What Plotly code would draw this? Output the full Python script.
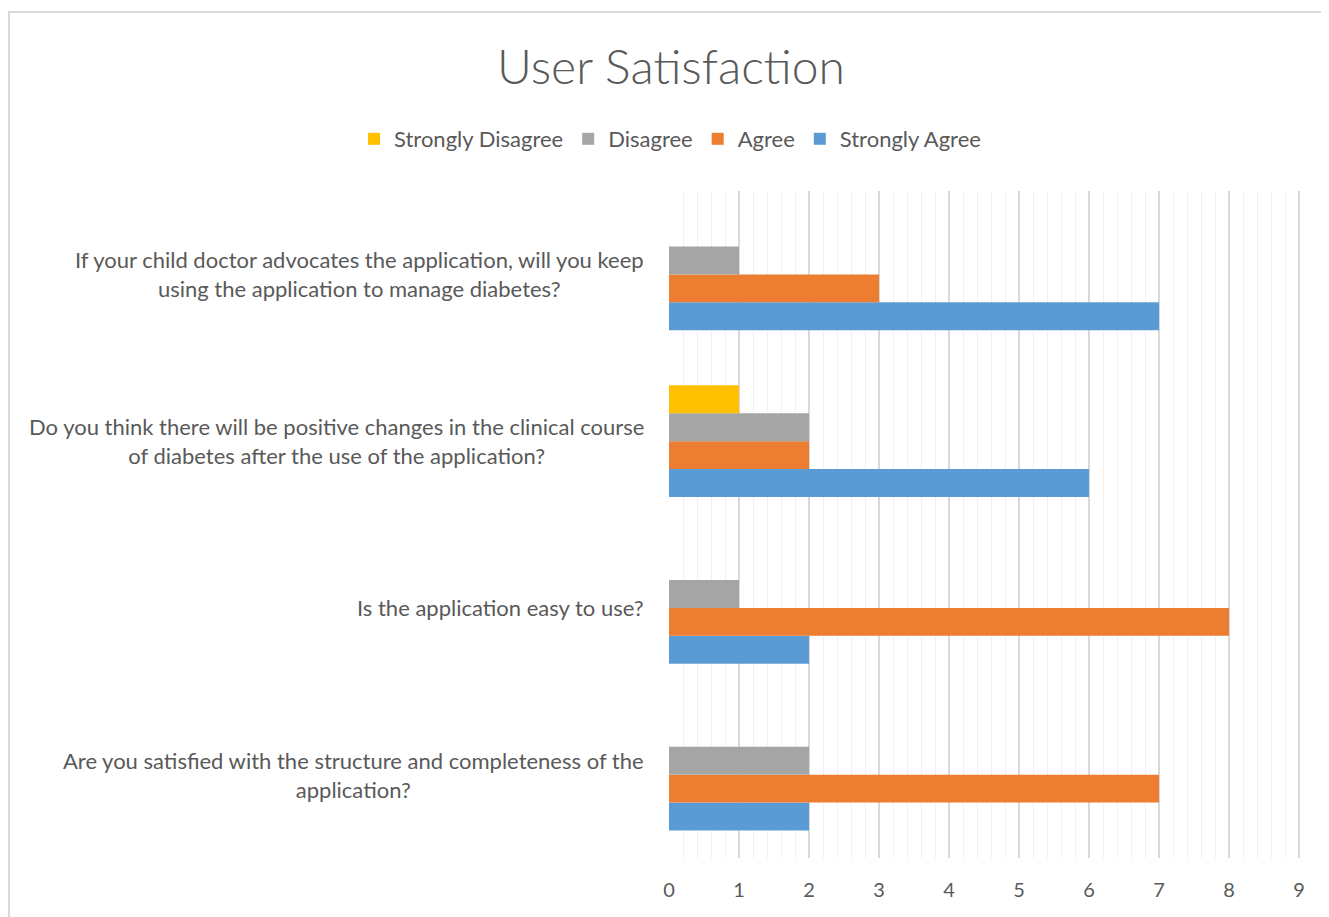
import plotly.graph_objects as go

questions = [
    "Are you satisfied with the structure and completeness of the<br>application?",
    "Is the application easy to use?",
    "Do you think there will be positive changes in the clinical course<br>of diabetes after the use of the application?",
    "If your child doctor advocates the application, will you keep<br>using the application to manage diabetes?",
]
series_names = ["Strongly Agree", "Agree", "Disagree", "Strongly Disagree"]
strongly_agree = [2, 2, 6, 7]
agree = [7, 8, 2, 3]
disagree = [2, 1, 2, 1]
strongly_disagree = [0, 0, 1, 0]
colors = ["#5B9BD5", "#ED7D31", "#A5A5A5", "#FFC000"]
x_ticks = list(range(0, 10))

FONT = "Lato"
TXT = "#595959"

W, H = 1321, 909
L, T, PW, PH = 661, 183, 632, 667

fig = go.Figure()
for name, vals, col in zip(series_names, [strongly_agree, agree, disagree, strongly_disagree], colors):
    fig.add_trace(go.Bar(
        y=questions, x=vals, name=name, orientation="h",
        marker=dict(color=col, line=dict(width=0)),
    ))

for q in questions:
    fig.add_annotation(
        x=-23 / PW, xref="paper", y=q, yref="y", text=q, showarrow=False,
        xanchor="right", yanchor="middle", align="center",
        font=dict(family=FONT, size=22, color=TXT),
    )

fig.update_layout(
    width=W, height=H,
    paper_bgcolor="white", plot_bgcolor="white",
    barmode="group", bargap=0.33, bargroupgap=0,
    margin=dict(l=L, r=W - L - PW, t=T, b=H - T - PH),
    title=dict(text="User Satisfaction", x=(671 - 8) / W, xanchor="center", xref="container",
               y=1 - (67 - 8) / H, yanchor="middle", yref="container",
               font=dict(family="Lato Light, Lato", size=48, color=TXT)),
    legend=dict(orientation="h", x=(662 - L) / PW, xanchor="center",
                y=1 - (139 - 8) / H, yref="container",
                yanchor="middle", traceorder="reversed",
                font=dict(family=FONT, size=22, color=TXT), itemwidth=30),
    showlegend=True,
    font=dict(family=FONT, color=TXT),
)
fig.update_xaxes(
    range=[0, 9 * PW / 630], tickvals=x_ticks, ticktext=[str(t) for t in x_ticks],
    showgrid=True, gridcolor="#D9D9D9", gridwidth=1.5,
    minor=dict(dtick=0.2, showgrid=True, gridcolor="#F0F0F0", gridwidth=1),
    zeroline=False, showline=False, ticks="",
    tickfont=dict(family=FONT, size=20, color=TXT), ticklabelstandoff=18,
)
fig.update_yaxes(showticklabels=False, showgrid=False, zeroline=False, showline=False)

fig.add_shape(type="rect", xref="paper", yref="paper",
              x0=(1 - L) / PW, x1=1.2, y0=-0.2, y1=1 + (T - 4) / PH,
              line=dict(color="#D9D9D9", width=2), fillcolor="rgba(0,0,0,0)", layer="below")

fig.write_html("out.html")
